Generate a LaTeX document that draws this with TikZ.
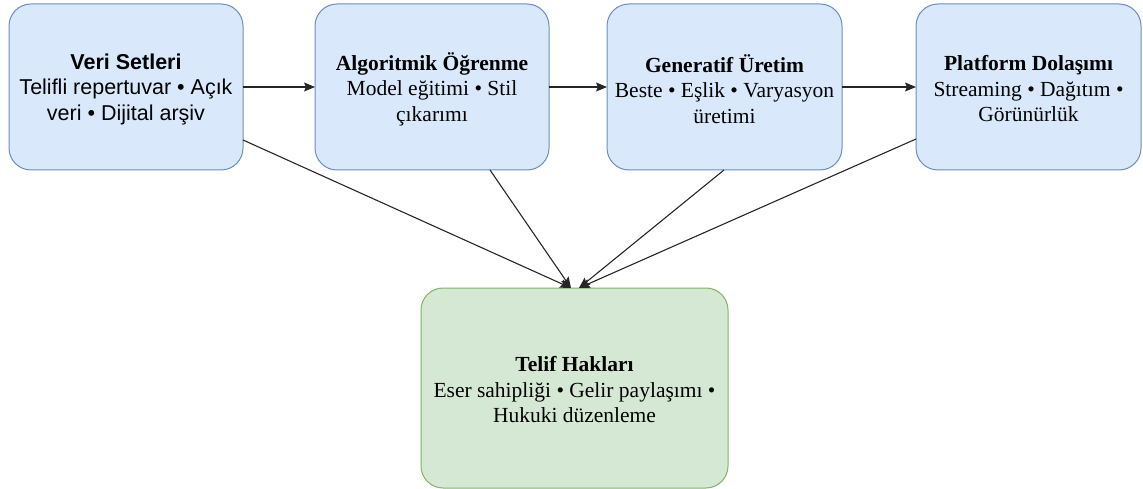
\documentclass[tikz,border=0pt]{standalone}
\usepackage{fontspec}
\setmainfont{Liberation Serif}
\newfontfamily\timesfont{Liberation Serif}
\newfontfamily\arialfont{Liberation Sans}
\usetikzlibrary{arrows.meta}
\definecolor{bluefill}{HTML}{DAE8FC}
\definecolor{bluedraw}{HTML}{6C8EBF}
\definecolor{greenfill}{HTML}{D5E8D4}
\definecolor{greendraw}{HTML}{82B366}
\begin{document}
\begin{tikzpicture}[x=1pt,y=-1pt,
  bluebox/.style={draw=bluedraw,fill=bluefill,line width=1pt,rounded corners=22pt},
  greenbox/.style={draw=greendraw,fill=greenfill,line width=1pt,rounded corners=22pt},
  lbl/.style={align=center,font=\timesfont\fontsize{21.5}{25.5}\selectfont,inner sep=0pt},
  sanslbl/.style={lbl,font=\arialfont\fontsize{21.5}{25.5}\selectfont},
  conn/.style={line width=1.1pt,draw=black!85,-{Stealth[length=11pt,width=9pt,inset=2pt]}}]
\useasboundingbox (0,0) rectangle (1143,489);
% boxes
\draw[bluebox] (9,4) rectangle (243,170);
\draw[bluebox] (315,4) rectangle (549,170);
\draw[bluebox] (607,4) rectangle (842,170);
\draw[bluebox] (916,4) rectangle (1141,170);
\draw[greenbox] (421,288) rectangle (728,488);
% labels
\node[sanslbl] (b1) at (126,89) {\textbf{Veri Setleri}\\Telifli repertuvar • Açık\\veri • Dijital arşiv};
\node[lbl] (b2) at (432,89) {\textbf{Algoritmik Öğrenme}\\Model eğitimi • Stil\\çıkarımı};
\node[lbl] (b3) at (724.5,89) {\textbf{Generatif Üretim}\\Beste • Eşlik • Varyasyon\\üretimi};
\node[lbl] (b4) at (1028.5,89) {\textbf{Platform Dolaşımı}\\Streaming • Dağıtım •\\Görünürlük};
\node[lbl] (g) at (574.5,390) {\textbf{Telif Hakları}\\Eser sahipliği • Gelir paylaşımı •\\Hukuki düzenleme};
% anchor coordinates
\coordinate (b1r) at (243,87);
\coordinate (b2l) at (315,87);
\coordinate (b2r) at (549,87);
\coordinate (b3l) at (607,87);
\coordinate (b3r) at (842,87);
\coordinate (b4l) at (916,87);
\coordinate (b1d) at (243,140);
\coordinate (b2d) at (490,170);
\coordinate (b3d) at (724,170);
\coordinate (b4d) at (916,139);
\coordinate (gt1) at (571,288);
\coordinate (gt2) at (579,288);
% connectors
\draw[conn] (b1r) -- (b2l);
\draw[conn] (b2r) -- (b3l);
\draw[conn] (b3r) -- (b4l);
\draw[conn] (b1d) -- (gt1);
\draw[conn] (b2d) -- (gt1);
\draw[conn] (b3d) -- (gt2);
\draw[conn] (b4d) -- (gt2);
\end{tikzpicture}
\end{document}
